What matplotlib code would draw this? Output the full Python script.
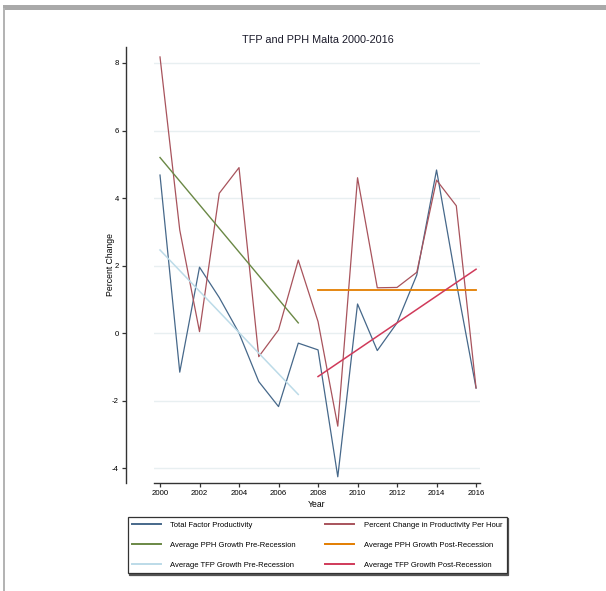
import matplotlib
matplotlib.use("Agg")
import matplotlib.pyplot as plt
from matplotlib.patches import Rectangle

plt.rcParams['font.family'] = ['Liberation Sans', 'DejaVu Sans']

years = list(range(2000, 2017))
tfp = [4.68, -1.16, 1.95, 1.05, 0.0, -1.44, -2.18, -0.30, -0.50, -4.26,
       0.86, -0.52, 0.30, 1.72, 4.83, 1.50, -1.63]
pph = [8.18, 3.05, 0.04, 4.14, 4.90, -0.70, 0.09, 2.16, 0.34, -2.76,
       4.60, 1.34, 1.35, 1.80, 4.53, 3.77, -1.63]

# fitted averages, endpoints of each period
pre_years = [2000, 2007]
post_years = [2008, 2016]
pph_pre_fit = [5.20, 0.30]
tfp_pre_fit = [2.46, -1.82]
pph_post_fit = [1.26, 1.26]
tfp_post_fit = [-1.29, 1.89]

xticks = list(range(2000, 2017, 2))
yticks = [-4, -2, 0, 2, 4, 6, 8]

W, H = 606, 591
fig = plt.figure(figsize=(W / 100, H / 100), dpi=100)
ax = fig.add_axes([154 / W, 1 - 483 / H, 326 / W, 436 / H])

for y in yticks:
    ax.axhline(y, color='#e8eff1', lw=1.0, zorder=0)

l1, = ax.plot(years, tfp, color='#46688a', lw=0.9, label='Total Factor Productivity')
l2, = ax.plot(years, pph, color='#a8535c', lw=0.9, label='Percent Change in Productivity Per Hour')
l3, = ax.plot(pre_years, pph_pre_fit, color='#6a8845', lw=1.0, label='Average PPH Growth Pre-Recession')
l4, = ax.plot(post_years, pph_post_fit, color='#e37e00', lw=1.3, label='Average PPH Growth Post-Recession')
l5, = ax.plot(pre_years, tfp_pre_fit, color='#bcdbe8', lw=1.1, label='Average TFP Growth Pre-Recession')
l6, = ax.plot(post_years, tfp_post_fit, color='#d03a5a', lw=1.1, label='Average TFP Growth Post-Recession')

ax.set_xlim(1999.696, 2016.20)
ax.set_ylim(-4.444, 8.474)
ax.set_xticks(xticks)
ax.set_yticks(yticks)
ax.set_yticklabels([str(v) for v in yticks], rotation=90, va='center')

for s in ['top', 'right']:
    ax.spines[s].set_visible(False)
ax.spines['left'].set_position(('outward', 20.2))
ax.spines['left'].set_color('#333333')
ax.spines['bottom'].set_color('#333333')
ax.spines['left'].set_linewidth(1.0)
ax.spines['bottom'].set_linewidth(1.0)
ax.tick_params(axis='both', length=3, width=0.9, color='#333333', labelsize=5.6, pad=2)

ax.set_xlabel('Year', fontsize=6.2, labelpad=2)
ax.set_ylabel('Percent Change', fontsize=6.2, labelpad=-2)
fig.text(318 / W, 1 - 40 / H, 'TFP and PPH Malta 2000-2016', ha='center', va='center',
         fontsize=7.8, color='#1a1a2a')

handles = [l1, l3, l5, l2, l4, l6]
leg = fig.legend(handles=handles, labels=[h.get_label() for h in handles], ncol=2,
                 loc='upper left', bbox_to_anchor=(127.7 / W, 1 - 571 / H, 379 / W, 54 / H),
                 mode='expand', fontsize=5.5, frameon=True, fancybox=False,
                 edgecolor='#333333', handlelength=3.8, handletextpad=1.2,
                 labelspacing=1.65, borderpad=0.6, borderaxespad=0,
                 shadow={'ox': 0.8, 'oy': -0.8, 'color': '#555555', 'alpha': 1})
leg.get_frame().set_linewidth(0.9)
for ln in leg.get_lines():
    ln.set_linewidth(1.4)

# page border
fig.add_artist(Rectangle((3 / W, 1 - 10 / H), 1, 5 / H, transform=fig.transFigure,
                         color='#a9a9a9', lw=0))
fig.add_artist(Rectangle((3 / W, 0), 1.5 / W, 1 - 8 / H, transform=fig.transFigure,
                         color='#b4b4b4', lw=0))

fig.savefig('out.png', dpi=100)
